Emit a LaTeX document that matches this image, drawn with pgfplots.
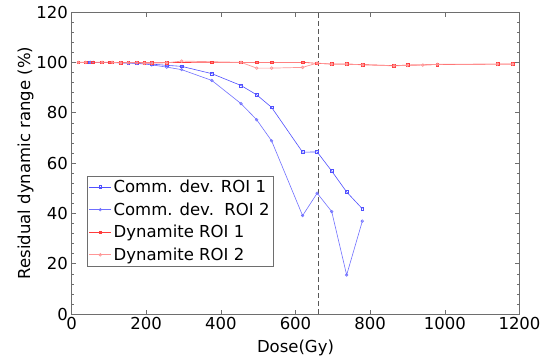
\documentclass[border=0pt]{standalone}
\usepackage{pgfplots}
\pgfplotsset{compat=1.18}
\usepackage{fontspec}
\setmainfont{DejaVu Sans}
\definecolor{bA}{RGB}{80,80,255}
\definecolor{bB}{RGB}{110,110,255}
\definecolor{rA}{RGB}{255,60,60}
\definecolor{rB}{RGB}{255,150,150}
\definecolor{ax}{RGB}{110,110,110}
\begin{document}
\begin{tikzpicture}
\begin{axis}[
  scale only axis, width=448pt, height=302pt,
  xmin=0, xmax=1200, ymin=0, ymax=120,
  xtick={0,200,...,1200}, ytick={0,20,...,120},
  minor y tick num=4,
  tick align=inside, major tick length=4.5pt, minor tick length=2.5pt,
  axis line style={ax}, tick style={ax},
  every tick/.style={ax},
  /pgf/number format/1000 sep={},
  /pgf/number format/assume math mode=true,
  ticklabel style={font=\fontsize{16.5}{19}\selectfont, black},
  label style={font=\fontsize{16.5}{19}\selectfont},
  xlabel={Dose(Gy)}, ylabel={Residual dynamic range (\%)},
  xlabel style={yshift=-3pt},
  ylabel style={yshift=-4pt},
  legend style={at={(0.034,0.159)}, anchor=south west, draw=ax, fill=white,
    font=\fontsize{16.5}{19}\selectfont, inner sep=2pt, row sep=4.5pt,
    legend cell align=left},
  legend image code/.code={\draw[#1] (0pt,0pt) -- (22pt,0pt); \draw[#1, only marks] plot coordinates {(11pt,0pt)};},
]
\addplot[bA, line width=0.6pt, mark=square, mark size=1.4pt] coordinates {
(50,100)(58,100)(152,99.8)(175,99.6)(215,99.3)(255,98.8)(295,98.4)(376,95.5)(454,90.8)(496,87.1)(536,82.1)(619,64.3)(658,64.4)(697,56.8)(737,48.5)(779,41.8)};
\addlegendentry{Comm. dev. ROI 1}
\addplot[bB, line width=0.6pt, mark=o, mark size=1.3pt] coordinates {
(50,100)(58,100)(152,99.7)(175,99.6)(215,99.0)(255,98.1)(295,97.1)(376,92.8)(454,83.6)(496,77.2)(536,68.8)(619,39.1)(658,48.0)(697,40.7)(737,15.5)(779,36.9)};
\addlegendentry{Comm. dev.\ \ ROI 2}
\addplot[rA, line width=0.6pt, mark=square, mark size=1.4pt] coordinates {
(18,100)(38,100)(58,100)(82,100)(103,100)(109,100)(132,99.9)(152,100)(175,100)(195,99.8)(215,99.9)(255,99.9)(376,100)(454,100)(496,100)(536,100)(619,100)(658,99.6)(697,99.3)(737,99.3)(780,99.1)(864,98.7)(900,98.9)(980,99.1)(1141,99.3)(1182,99.3)};
\addlegendentry{Dynamite ROI 1}
\addplot[rB, line width=0.7pt, mark=o, mark size=1.3pt] coordinates {
(18,100)(38,100)(82,100)(109,100)(132,99.8)(152,99.8)(175,99.8)(195,99.6)(215,99.7)(255,99.8)(295,100.5)(454,100)(496,97.7)(536,97.7)(619,98.0)(658,99.7)(697,99.3)(737,99.3)(780,99.0)(864,98.6)(900,98.8)(941,98.9)(980,99.2)(1141,99.3)(1182,99.3)};
\addlegendentry{Dynamite ROI 2}
\draw[ax!80!black, dashed, dash pattern=on 5pt off 3pt, line width=0.6pt] (axis cs:660,0) -- (axis cs:660,120);
\end{axis}
\pgfresetboundingbox
\path (-71.5pt,-48pt) rectangle (476.5pt,314pt);
\end{tikzpicture}
\end{document}
